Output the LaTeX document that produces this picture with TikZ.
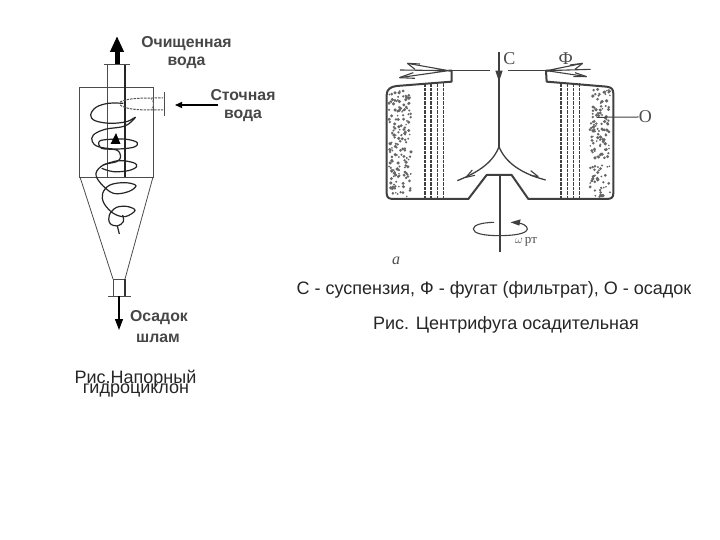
\documentclass[tikz,border=0pt]{standalone}
\usepackage{fontspec}
\setmainfont{Liberation Sans}
\newfontfamily\serifcyr{Liberation Serif}
\usetikzlibrary{arrows.meta}
\definecolor{lineg}{gray}{0.25}
\tikzset{
 lbl/.style={font=\fontsize{15.8}{16}\selectfont\bfseries,text=black!72,inner sep=0pt,anchor=center},
 captxt/.style={font=\fontsize{18}{18}\selectfont,text=black!85,inner sep=0pt,anchor=center},
 thin1/.style={draw=black!70,line width=0.8pt},
 wall/.style={draw=lineg,line width=2pt,line join=round},
 centre/.style={draw=lineg,line width=0.9pt},
 perf/.style={draw=lineg,line width=1.1pt,dash pattern=on 3.5pt off 1pt},
 letter/.style={font=\serifcyr\fontsize{18}{18}\selectfont,text=black!70,inner sep=0pt,anchor=center}
}
\begin{document}
\begin{tikzpicture}[x=1pt,y=-1pt]
\useasboundingbox (0,0) rectangle (720,540);
\fill[white] (0,0) rectangle (720,540);
% --- hydrocyclone
\draw[thin1] (79,177) rectangle (153,87);
\draw[thin1] (80,177) -- (113,279);
\draw[thin1] (153,177) -- (125,279);
\draw[thin1] (107.5,64) rectangle (125,177);
\draw[line width=1.8pt,black!85] (125,64) -- (125,177);
\draw[thin1] (104,64) -- (130,64);
\coordinate (pipetop) at (117,64);
\coordinate (outtop) at (117,36);
\draw[line width=5pt,black,-{Triangle[length=16pt,width=13pt]}] (pipetop) -- (outtop);
% inlet
\draw[black!65,line width=1pt,dash pattern=on 2.5pt off 1pt] (120,102) .. controls (126,99) and (135,98) .. (153,98) -- (163,98);
\draw[black!65,line width=1pt,dash pattern=on 2.5pt off 1pt] (120,105) .. controls (126,109) and (135,110) .. (153,110) -- (163,110);
\draw[black!50,line width=0.8pt,dash pattern=on 2pt off 1pt] (151,98) .. controls (154,101) and (154,107) .. (151,110);
\draw[thin1] (164,92) -- (164,116);
\coordinate (inA) at (218,105);
\coordinate (inB) at (175,105);
\draw[line width=1.3pt,black,-{Triangle[length=7pt,width=6pt]}] (inA) -- (inB);
% spiral
\begin{scope}[shift={(60,20)},x=0.3333pt,y=-0.3333pt]
\draw[line width=1.2pt,black!85,line join=round] plot[smooth,tension=0.6] coordinates {
(190,250)(145,250)(108,262)(92,285)(105,302)(150,310)(200,305)(226,292)(195,318)(135,328)(100,345)(97,365)(115,380)(165,387)(220,382)(232,368)(200,358)(150,358)(118,364)(125,385)(170,390)(182,410)(170,425)(130,435)(108,460)(122,490)(160,520)(205,515)(228,497)(195,488)(150,495)(128,520)(132,550)(160,580)(195,590)(225,572)(205,560)(170,562)(148,585)(150,610)(172,618)(190,605)(188,585)};
\draw[line width=1.2pt,black!85,line join=round] plot[smooth,tension=0.6] coordinates {(130,435)(175,422)(220,428)(230,440)(205,452)(160,455)(125,445)};
\draw[line width=1.2pt,black!85] (172,618) -- (178,642);
\end{scope}
\path[fill=black] (116,133) -- (110.5,144) -- (120.5,144) -- cycle;
% nozzle
\draw[thin1] (113,279) rectangle (125,296);
\draw[line width=1.3pt,black!80] (125,279) -- (125,296);
\draw[thin1] (108,296) -- (131,296);
\coordinate (noz) at (119,296);
\coordinate (sludge) at (119,330);
\draw[line width=1.3pt,black,-{Triangle[length=11pt,width=8pt]}] (noz) -- (sludge);
% labels
\node[lbl] (t1) at (186.5,44) {Очищенная};
\node[lbl] (t2) at (186.5,63) {вода};
\node[lbl] (t3) at (243,95) {Сточная};
\node[lbl] (t4) at (243,116) {вода};
\node[lbl] (t5) at (159,318) {Осадок};
\node[lbl] (t6) at (158,338) {шлам};
\node[captxt,anchor=base] (t7) at (135.5,383) {Рис.Напорный};
\node[captxt,anchor=base] (t8) at (136,393) {гидроциклон};
\node[captxt] (t9) at (494,290) {С - суспензия, Ф - фугат (фильтрат), О - осадок};
\node[captxt] (t10) at (506,325) {Рис. Центрифуга осадительная};
% --- centrifuge
\begin{scope}[shift={(370,30)},x=0.3333pt,y=-0.3333pt]
\draw[wall] (235,122) -- (245,122) -- (245,155) -- (80,168) .. controls (62,170) and (50,178) .. (50,195) -- (50,490) .. controls (50,502) and (56,507) .. (70,507) -- (295,507) -- (350,435) -- (425,435) -- (475,507) -- (710,507) .. controls (725,507) and (730,502) .. (730,490) -- (730,190) .. controls (730,178) and (725,172) .. (710,170) -- (530,155) -- (528,122) -- (538,122);
\draw[centre] (245,122) -- (360,122);
\draw[centre] (415,122) -- (528,122);
% perforated walls
\foreach \xx in {165,183,202,220,573,592,610,628} \draw[perf] (\xx,160) -- (\xx,505);
% sediment
\pgfmathsetseed{7}
\foreach \i in {1,...,170}{
 \pgfmathsetmacro{\dx}{57+rnd*66}\pgfmathsetmacro{\dy}{178+rnd*322}
 \pgfmathsetmacro{\dr}{2.5+rnd*3}
 \fill[black!60] (\dx,\dy) circle[radius=\dr];
}
\foreach \i in {1,...,150}{
 \pgfmathsetmacro{\dx}{660+rnd*60}\pgfmathsetmacro{\dy}{178+rnd*322}
 \pgfmathsetmacro{\dr}{2.5+rnd*3}
 \fill[black!60] (\dx,\dy) circle[radius=\dr];
}
% feed
\coordinate (feedtop) at (387,65);
\coordinate (split) at (387,350);
\draw[wall] (feedtop) -- (split);
\fill[lineg] (376,122) -- (398,122) -- (387,155) -- cycle;
\coordinate (outL) at (262,452);
\coordinate (outR) at (527,450);
\draw[draw=lineg,line width=1.3pt] (split) .. controls (370,395) and (330,425) .. (outL);
\draw[draw=lineg,line width=1.3pt] (split) .. controls (405,395) and (450,430) .. (outR);
\draw[draw=lineg,line width=1.1pt] (288,442) -- (307,420) (288,442) -- (315,436);
\draw[draw=lineg,line width=1.1pt] (505,440) -- (482,422) (505,440) -- (480,436);
% filtrate arrows
\coordinate (lipL) at (236,122);
\coordinate (lipR) at (530,122);
\draw[centre,line width=1.1pt] (lipL) -- (112,100) (lipL) -- (90,120) (lipL) -- (88,143);
\draw[centre,line width=1.1pt] (112,100) -- (150,102) (112,100) -- (135,118);
\draw[centre,line width=1.1pt] (88,143) -- (130,128) (88,143) -- (135,145);
\draw[centre,line width=1.1pt] (lipR) -- (638,100) (lipR) -- (662,118) (lipR) -- (650,140);
\draw[centre,line width=1.1pt] (638,100) -- (600,105) (638,100) -- (615,118);
\draw[centre,line width=1.1pt] (650,140) -- (615,128) (650,140) -- (610,140);
% shaft
\coordinate (shafttop) at (389,435);
\coordinate (shaftbot) at (389,665);
\draw[draw=lineg,line width=2.2pt] (shafttop) -- (shaftbot);
\draw[draw=lineg,line width=1.1pt] (425,577) .. controls (460,578) and (472,588) .. (472,597) .. controls (470,612) and (430,617) .. (387,617) .. controls (340,617) and (310,610) .. (310,597) .. controls (310,585) and (335,578) .. (372,577);
\fill[lineg] (422,577) -- (452,568) -- (448,587) -- cycle;
% leader
\coordinate (sedpt) at (680,262);
\node[letter] (lO) at (826,261) {О};
\draw[draw=lineg,line width=1pt] (sedpt) -- (lO.west);
\node[letter] (lC) at (418,85) {С};
\node[letter] (lF) at (587,85) {Ф};
\node[letter,font=\serifcyr\fontsize{13}{13}\selectfont] (lw) at (468,636) {$\omega$\,рт};
\node[letter,font=\serifcyr\itshape\fontsize{16}{16}\selectfont] (la) at (78,692) {a};
\end{scope}
\end{tikzpicture}
\end{document}
